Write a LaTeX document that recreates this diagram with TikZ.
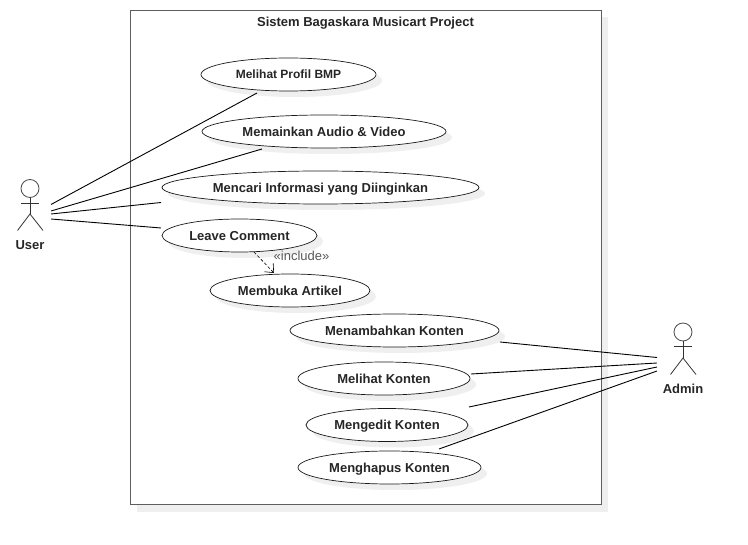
\documentclass[tikz,border=0pt]{standalone}
\usepackage{fontspec}
\setmainfont{Liberation Sans}
\definecolor{shadowcol}{HTML}{EFEFEF}
\definecolor{framecol}{HTML}{5E5E5E}
\definecolor{linecol}{HTML}{1A1A1A}
\tikzset{
  usecase/.style={ellipse,draw=linecol,line width=0.7pt,fill=white,inner sep=0pt,minimum width=#1,minimum height=33pt,font=\bfseries\fontsize{13}{15}\selectfont,text=black!85,text depth=0pt,
    preaction={draw=none,fill=shadowcol,transform canvas={xshift=6pt,yshift=-6pt}}},
  assoc/.style={draw=black,line width=0.9pt},
  actorline/.style={draw=black!80,line width=0.8pt},
  actorlabel/.style={font=\bfseries\fontsize{13}{15}\selectfont,text=black!85}
}
\usetikzlibrary{shapes.geometric,arrows.meta}
\begin{document}
\begin{tikzpicture}[x=1pt,y=-1pt]
\useasboundingbox (0,0) rectangle (748,545);
\fill[white] (0,0) rectangle (748,545);
% system frame
\fill[shadowcol] (137,17) rectangle (608,512);
\node[draw=framecol,line width=1.15pt,fill=white,minimum width=471pt,minimum height=494pt,inner sep=0pt] (sys) at (365.7,257.2) {};
\node[font=\bfseries\fontsize{13}{15}\selectfont,text=black!85] (title) at (365.5,23) {Sistem Bagaskara Musicart Project};
% use cases
\node[usecase=175pt,font=\bfseries\fontsize{12}{14}\selectfont] (uc1) at (288.5,74.5) {Melihat Profil BMP};
\node[usecase=244pt] (uc2) at (324,131.5) {Memainkan Audio \& Video};
\node[usecase=317pt] (uc3) at (320.5,187.5) {Mencari Informasi yang Diinginkan};
\node[usecase=155pt] (uc4) at (239.5,235.5) {Leave Comment};
\node[usecase=160pt] (uc5) at (290,290.5) {Membuka Artikel};
\node[usecase=209pt] (uc6) at (394.5,330.5) {Menambahkan Konten};
\node[usecase=172pt] (uc7) at (384,378.5) {Melihat Konten};
\node[usecase=162pt] (uc8) at (387,425) {Mengedit Konten};
\node[usecase=183pt] (uc9) at (389.5,467.5) {Menghapus Konten};
% actors
\node[circle,draw=black!70,line width=0.8pt,minimum size=18pt,inner sep=0pt] (userhead) at (30,188.5) {};
\coordinate (userhip) at (30,214);
\draw[actorline] (userhead.south) -- (userhip);
\draw[actorline] (21,203) -- (39,203);
\draw[actorline] (17.5,230.5) -- (userhip) -- (43,230.5);
\node[actorlabel] (user) at (30,245) {User};
\node[circle,draw=black!70,line width=0.8pt,minimum size=18pt,inner sep=0pt] (adminhead) at (683,332) {};
\coordinate (adminhip) at (683,358);
\draw[actorline] (adminhead.south) -- (adminhip);
\draw[actorline] (674,346.5) -- (692,346.5);
\draw[actorline] (670.5,374.5) -- (adminhip) -- (696,374.5);
\node[actorlabel] (admin) at (683,389) {Admin};
% free ends
\coordinate (ua) at (51,204.5);
\coordinate (ub) at (51,211);
\coordinate (uc) at (51,214);
\coordinate (ud) at (51,219);
\coordinate (ea) at (257,93);
\coordinate (eb) at (262,149);
\coordinate (ec) at (161,202.5);
\coordinate (ed) at (161,228);
\coordinate (aa) at (657,357.5);
\coordinate (ab) at (657,363);
\coordinate (ac) at (657,367);
\coordinate (ad) at (657,371);
\coordinate (fa) at (500,342);
\coordinate (fb) at (471,374);
\coordinate (fc) at (469,407);
\coordinate (fd) at (439,449);
\draw[assoc] (ua) -- (ea);
\draw[assoc] (ub) -- (eb);
\draw[assoc] (uc) -- (ec);
\draw[assoc] (ud) -- (ed);
\draw[assoc] (fa) -- (aa);
\draw[assoc] (fb) -- (ab);
\draw[assoc] (fc) -- (ac);
\draw[assoc] (fd) -- (ad);
% include
\coordinate (ia) at (254,252);
\coordinate (ib) at (274,273);
\draw[black,line width=0.6pt,dash pattern=on 3pt off 2pt,-{Straight Barb[length=7pt,width=12pt]}] (ia) -- (ib);
\node[font=\fontsize{13}{15}\selectfont,text=black!65] (inc) at (301.5,256) {«include»};
\end{tikzpicture}
\end{document}
